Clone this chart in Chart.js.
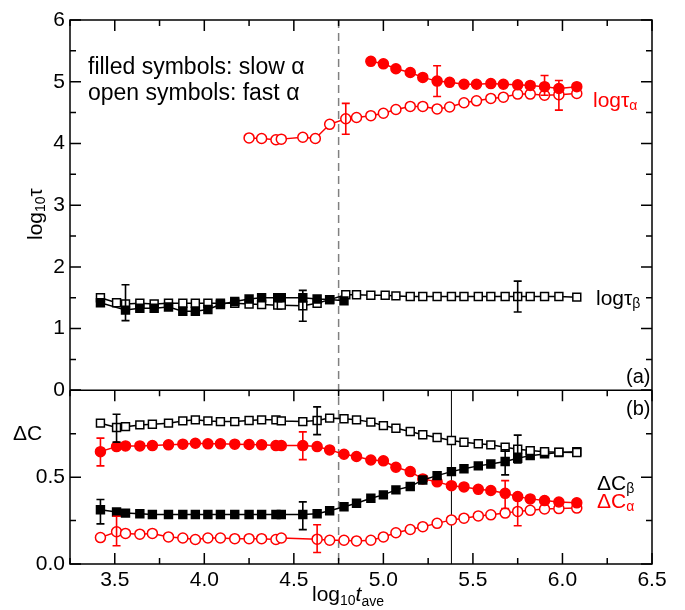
<!DOCTYPE html>
<html>
<head>
<meta charset="utf-8">
<script src="https://cdn.jsdelivr.net/npm/chart.js@4.4.1/dist/chart.umd.min.js"></script>
<style>
html, body { margin: 0; padding: 0; background: #fff; }
#wrap { width: 685px; height: 610px; }
</style>
</head>
<body>
<div id="wrap"><canvas id="c"></canvas></div>
<script>
// ---- panel (a): log10 tau ----
const tauAslowX = [4.93, 5.00, 5.07, 5.15, 5.22, 5.30, 5.37, 5.45, 5.52, 5.60, 5.67, 5.75, 5.82, 5.90, 5.98, 6.08];
const tauAslowY = [5.33, 5.29, 5.21, 5.15, 5.07, 5.01, 4.99, 4.96, 4.96, 4.97, 4.96, 4.95, 4.94, 4.92, 4.89, 4.92];

const tauAfastX = [4.25, 4.32, 4.40, 4.43, 4.55, 4.62, 4.70, 4.79, 4.85, 4.93, 5.00, 5.07, 5.15, 5.22, 5.30, 5.37, 5.45, 5.52, 5.60, 5.67, 5.75, 5.82, 5.90, 5.98, 6.08];
const tauAfastY = [4.09, 4.08, 4.06, 4.07, 4.10, 4.08, 4.31, 4.40, 4.42, 4.45, 4.49, 4.55, 4.60, 4.60, 4.56, 4.59, 4.66, 4.69, 4.73, 4.75, 4.80, 4.80, 4.78, 4.79, 4.81];

const tauBfastX = [3.42, 3.51, 3.56, 3.64, 3.72, 3.80, 3.88, 3.95, 4.02, 4.09, 4.17, 4.25, 4.32, 4.41, 4.43, 4.55, 4.63, 4.70, 4.79, 4.85, 4.93, 5.01, 5.07, 5.15, 5.22, 5.30, 5.38, 5.45, 5.53, 5.60, 5.68, 5.75, 5.82, 5.90, 5.98, 6.08];
const tauBfastY = [1.50, 1.42, 1.40, 1.41, 1.40, 1.41, 1.41, 1.41, 1.41, 1.41, 1.41, 1.40, 1.39, 1.38, 1.38, 1.37, 1.41, 1.47, 1.55, 1.55, 1.54, 1.54, 1.53, 1.52, 1.52, 1.52, 1.52, 1.52, 1.52, 1.52, 1.52, 1.52, 1.52, 1.52, 1.52, 1.51];

const tauBslowX = [3.42, 3.56, 3.64, 3.72, 3.80, 3.88, 3.95, 4.02, 4.09, 4.17, 4.25, 4.32, 4.41, 4.43, 4.55, 4.63, 4.70, 4.78];
const tauBslowY = [1.42, 1.30, 1.33, 1.33, 1.35, 1.28, 1.28, 1.31, 1.39, 1.44, 1.48, 1.50, 1.50, 1.50, 1.50, 1.48, 1.47, 1.45];

// ---- panel (b): Delta C ----
const gridX = [3.42, 3.51, 3.56, 3.64, 3.71, 3.80, 3.88, 3.95, 4.02, 4.09, 4.17, 4.25, 4.32, 4.40, 4.43, 4.55, 4.63, 4.70, 4.78, 4.85, 4.93, 5.00, 5.07, 5.15, 5.22, 5.30, 5.38, 5.45, 5.53, 5.60, 5.68, 5.75, 5.82, 5.90, 5.98, 6.08];

const dCbFastY = [0.811, 0.786, 0.791, 0.801, 0.805, 0.811, 0.824, 0.830, 0.824, 0.820, 0.820, 0.826, 0.830, 0.830, 0.824, 0.820, 0.826, 0.840, 0.836, 0.830, 0.817, 0.797, 0.782, 0.763, 0.744, 0.728, 0.711, 0.701, 0.692, 0.686, 0.672, 0.661, 0.653, 0.647, 0.644, 0.642];
const dCbSlowY = [0.312, 0.299, 0.293, 0.289, 0.285, 0.285, 0.285, 0.285, 0.285, 0.285, 0.285, 0.285, 0.285, 0.285, 0.285, 0.285, 0.289, 0.307, 0.330, 0.350, 0.379, 0.398, 0.427, 0.446, 0.484, 0.509, 0.532, 0.548, 0.565, 0.576, 0.590, 0.609, 0.624, 0.634, 0.642, 0.647];
const dCaSlowY = [0.647, 0.676, 0.680, 0.680, 0.682, 0.686, 0.690, 0.695, 0.692, 0.692, 0.690, 0.688, 0.686, 0.682, 0.682, 0.682, 0.676, 0.657, 0.632, 0.619, 0.599, 0.594, 0.557, 0.532, 0.490, 0.473, 0.451, 0.444, 0.430, 0.423, 0.407, 0.388, 0.375, 0.365, 0.357, 0.352];

const dCaFastX = [3.42, 3.51, 3.56, 3.64, 3.71, 3.80, 3.88, 3.95, 4.02, 4.09, 4.17, 4.25, 4.32, 4.40, 4.43, 4.63, 4.70, 4.78, 4.85, 4.93, 5.00, 5.07, 5.15, 5.22, 5.30, 5.38, 5.45, 5.53, 5.60, 5.68, 5.75, 5.82, 5.90, 5.98, 6.08];
const dCaFastY = [0.152, 0.186, 0.176, 0.172, 0.176, 0.156, 0.150, 0.141, 0.150, 0.150, 0.146, 0.146, 0.146, 0.141, 0.150, 0.143, 0.137, 0.137, 0.133, 0.137, 0.156, 0.180, 0.199, 0.215, 0.234, 0.254, 0.264, 0.277, 0.283, 0.293, 0.303, 0.309, 0.317, 0.319, 0.322];

// error bars: [x, centre, half-width]
const errRedTop = [[5.30, 5.01, 0.25], [5.90, 4.94, 0.16], [4.79, 4.40, 0.25], [5.98, 4.78, 0.24]];
const errBlackTop = [[3.56, 1.42, 0.29], [4.55, 1.37, 0.25], [5.75, 1.52, 0.25]];
const errBlackBot = [[3.51, 0.782, 0.08], [4.63, 0.825, 0.08], [5.75, 0.662, 0.08], [3.42, 0.301, 0.07], [4.55, 0.278, 0.08], [5.68, 0.585, 0.072]];
const errRedBot = [[3.42, 0.645, 0.08], [4.55, 0.681, 0.08], [5.68, 0.40, 0.08], [3.51, 0.19, 0.085], [4.63, 0.146, 0.08], [5.75, 0.295, 0.075]];

const xTicks = [3.5, 4.0, 4.5, 5.0, 5.5, 6.0, 6.5];
const dashX = 4.75;
const solidX = 5.38;

const RED = '#ff0000';
const BLK = '#000000';
const FONT = '"Liberation Sans", Arial, sans-serif';

const pts = (xs, ys) => xs.map((x, i) => ({x: x, y: ys[i]}));

function series(xs, ys, axis, color, filled, style) {
    const r = style === 'rect' ? 5.6 : 5;
    return {
        data: pts(xs, ys),
        yAxisID: axis,
        showLine: true,
        borderColor: color,
        borderWidth: 1.5,
        backgroundColor: filled ? color : '#ffffff',
        pointBackgroundColor: filled ? color : '#ffffff',
        pointBorderColor: color,
        pointBorderWidth: 1.5,
        pointStyle: style,
        pointRadius: r,
        pointHoverRadius: r
    };
}

function richText(ctx, parts, x, y, color) {
    let cx = x;
    for (const p of parts) {
        ctx.font = (p.italic ? 'italic ' : '') + p.size + 'px ' + FONT;
        ctx.fillStyle = p.color || color;
        ctx.fillText(p.t, cx, y + (p.dy || 0));
        cx += ctx.measureText(p.t).width;
    }
}

function drawBars(ctx, list, xs, ys, color) {
    ctx.strokeStyle = color;
    ctx.lineWidth = 1.6;
    for (const [x, c, e] of list) {
        const px = xs.getPixelForValue(x);
        const y1 = ys.getPixelForValue(c - e);
        const y2 = ys.getPixelForValue(c + e);
        ctx.beginPath();
        ctx.moveTo(px, y1); ctx.lineTo(px, y2);
        ctx.moveTo(px - 4, y1); ctx.lineTo(px + 4, y1);
        ctx.moveTo(px - 4, y2); ctx.lineTo(px + 4, y2);
        ctx.stroke();
    }
}

const decor = {
    id: 'decor',
    beforeDatasetsDraw(chart) {
        const {ctx, scales: {x, yTop, yBot}} = chart;
        ctx.save();
        const xd = x.getPixelForValue(dashX);
        ctx.strokeStyle = '#808080';
        ctx.lineWidth = 1.5;
        ctx.setLineDash([8, 5]);
        ctx.beginPath(); ctx.moveTo(xd, yTop.top); ctx.lineTo(xd, yBot.bottom); ctx.stroke();
        ctx.setLineDash([]);
        const xs = x.getPixelForValue(solidX);
        ctx.strokeStyle = BLK;
        ctx.lineWidth = 1;
        ctx.beginPath(); ctx.moveTo(xs, yBot.top); ctx.lineTo(xs, yBot.bottom); ctx.stroke();
        ctx.restore();
    },
    afterDatasetsDraw(chart) {
        const {ctx, scales: {x, yTop, yBot}} = chart;
        ctx.save();
        drawBars(ctx, errRedTop, x, yTop, RED);
        drawBars(ctx, errBlackTop, x, yTop, BLK);
        drawBars(ctx, errBlackBot, x, yBot, BLK);
        drawBars(ctx, errRedBot, x, yBot, RED);
        ctx.restore();
    },
    afterDraw(chart) {
        const {ctx, chartArea: {left, right}, scales: {x, yTop, yBot}} = chart;
        ctx.save();
        ctx.strokeStyle = BLK;
        ctx.lineWidth = 1.5;
        // frames
        ctx.strokeRect(left, yTop.top, right - left, yBot.bottom - yTop.top);
        ctx.beginPath(); ctx.moveTo(left, yBot.top); ctx.lineTo(right, yBot.top); ctx.stroke();
        // x ticks, inward, on every horizontal edge
        const edges = [[yTop.top, 1], [yBot.top, 1], [yBot.bottom, -1]];
        for (let v = 3.25; v <= 6.5001; v += 0.25) {
            const px = x.getPixelForValue(v);
            const major = Math.abs(v * 2 - Math.round(v * 2)) < 1e-6;
            const len = major ? 11 : 6;
            ctx.beginPath();
            for (const [py, dir] of edges) { ctx.moveTo(px, py); ctx.lineTo(px, py + dir * len); }
            ctx.stroke();
        }
        // y ticks, both sides
        const yt = (scale, step, majorStep) => {
            for (let v = scale.min; v <= scale.max + 1e-6; v += step) {
                const py = scale.getPixelForValue(v);
                const major = Math.abs(v / majorStep - Math.round(v / majorStep)) < 1e-6;
                const len = major ? 11 : 6;
                ctx.beginPath();
                ctx.moveTo(left, py); ctx.lineTo(left + len, py);
                ctx.moveTo(right, py); ctx.lineTo(right - len, py);
                ctx.stroke();
            }
        };
        yt(yTop, 0.5, 1);
        yt(yBot, 0.25, 0.5);

        // texts
        ctx.textBaseline = 'alphabetic';
        ctx.textAlign = 'left';
        richText(ctx, [{t: 'filled symbols: slow ', size: 23}, {t: 'α', size: 23}], 88, 74, BLK);
        richText(ctx, [{t: 'open symbols: fast ', size: 23}, {t: 'α', size: 23}], 88, 100, BLK);
        richText(ctx, [{t: 'log', size: 21}, {t: 'τ', size: 21}, {t: 'α', size: 14, dy: 3}], 593, 107, RED);
        richText(ctx, [{t: 'log', size: 21}, {t: 'τ', size: 21}, {t: 'β', size: 14, dy: 3}], 596, 305, BLK);
        richText(ctx, [{t: 'ΔC', size: 21}, {t: 'β', size: 14, dy: 3}], 597, 490, BLK);
        richText(ctx, [{t: 'ΔC', size: 21}, {t: 'α', size: 14, dy: 3}], 597, 508, RED);
        richText(ctx, [{t: '(a)', size: 20}], 626, 383, BLK);
        richText(ctx, [{t: '(b)', size: 20}], 626, 415, BLK);
        richText(ctx, [{t: 'ΔC', size: 21}], 13, 440, BLK);
        richText(ctx, [{t: 'log', size: 21}, {t: '10', size: 14, dy: 4}, {t: 't', size: 21, italic: true}, {t: 'ave', size: 14, dy: 5}], 312, 601, BLK);
        ctx.save();
        ctx.translate(42, 240);
        ctx.rotate(-Math.PI / 2);
        richText(ctx, [{t: 'log', size: 21}, {t: '10', size: 14, dy: 3}, {t: 'τ', size: 21}], 0, 0, BLK);
        ctx.restore();
        ctx.restore();
    }
};

const tickFont = {family: FONT, size: 21};
const hidden = {display: false, drawTicks: false};

new Chart(document.getElementById('c'), {
    type: 'scatter',
    data: {
        datasets: [
            series(tauAslowX, tauAslowY, 'yTop', RED, true, 'circle'),
            series(tauAfastX, tauAfastY, 'yTop', RED, false, 'circle'),
            series(tauBslowX, tauBslowY, 'yTop', BLK, true, 'rect'),
            series(tauBfastX, tauBfastY, 'yTop', BLK, false, 'rect'),
            series(gridX, dCbFastY, 'yBot', BLK, false, 'rect'),
            series(gridX, dCbSlowY, 'yBot', BLK, true, 'rect'),
            series(gridX, dCaSlowY, 'yBot', RED, true, 'circle'),
            series(dCaFastX, dCaFastY, 'yBot', RED, false, 'circle')
        ]
    },
    options: {
        responsive: true,
        maintainAspectRatio: false,
        animation: false,
        layout: {padding: {top: 20, right: 33, bottom: 0, left: 0}},
        plugins: {legend: {display: false}, tooltip: {enabled: false}},
        scales: {
            x: {
                type: 'linear', position: 'bottom', min: 3.25, max: 6.5,
                grid: hidden, border: {display: false},
                afterBuildTicks: s => { s.ticks = xTicks.map(v => ({value: v})); },
                ticks: {font: tickFont, color: BLK, padding: 4, maxRotation: 0,
                        callback: v => v.toFixed(1)},
                afterFit: s => { s.height = 46; }
            },
            yBot: {
                type: 'linear', position: 'left', stack: 'v', stackWeight: 173.5,
                min: 0, max: 1,
                grid: hidden, border: {display: false},
                ticks: {font: tickFont, color: BLK, stepSize: 0.5, padding: 5,
                        callback: v => v >= 1 ? '' : v.toFixed(1)},
                afterFit: s => { s.width = 70; }
            },
            yTop: {
                type: 'linear', position: 'left', stack: 'v', stackWeight: 370,
                min: 0, max: 6,
                grid: hidden, border: {display: false},
                ticks: {font: tickFont, color: BLK, stepSize: 1, padding: 5},
                afterFit: s => { s.width = 70; }
            }
        }
    },
    plugins: [decor]
});
</script>
</body>
</html>
